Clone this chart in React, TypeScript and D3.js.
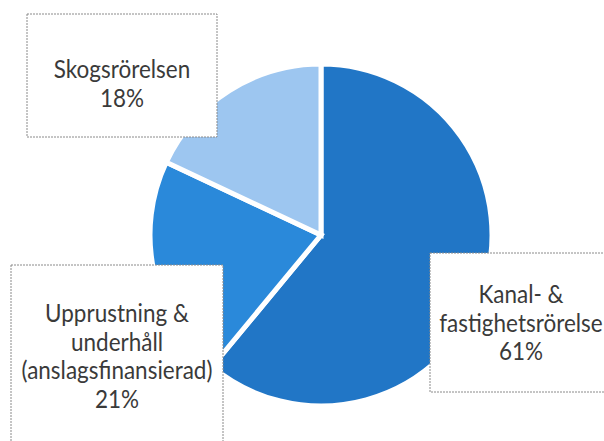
import React from "react";
import * as d3 from "d3";

const categories = [
  "Kanal- & fastighetsrörelse",
  "Upprustning & underhåll (anslagsfinansierad)",
  "Skogsrörelsen",
];
const values = [61, 21, 18];
const labelNames = [
  ["Kanal- &", "fastighetsrörelse"],
  ["Upprustning &", "underhåll", "(anslagsfinansierad)"],
  ["Skogsrörelsen"],
];
const colors = ["#2176C6", "#2A89DA", "#9DC6F0"];

const W = 604;
const H = 441;
const cx = 321;
const cy = 235;
const R = 171;

const boxes = [
  { x0: 430, y0: 253, x1: 614, y1: 392, tx: 521, ty: 303 },
  { x0: 11, y0: 265, x1: 223, y1: 450, tx: 117, ty: 322 },
  { x0: 27, y0: 14, x1: 217, y1: 137, tx: 122, ty: 78 },
];

export default function App() {
  const pie = d3
    .pie<number>()
    .sort(null)
    .value((d) => d)
    .startAngle(0)
    .endAngle(2 * Math.PI);
  const arcs = pie(values);
  const arc = d3.arc<d3.PieArcDatum<number>>().innerRadius(0).outerRadius(R);
  const lineH = 28.5;
  const fontSize = 22.5;
  const vScale = 1.12;

  return (
    <svg
      width={W}
      height={H}
      style={{ position: "absolute", left: 0, top: 0, background: "#fff" }}
    >
      <rect x={0} y={0} width={W} height={H} fill="#fff" />
      <g transform={`translate(${cx},${cy})`}>
        {arcs.map((a, i) => (
          <path
            key={categories[i]}
            d={arc(a) || ""}
            fill={colors[i]}
            stroke="#fff"
            strokeWidth={5}
            strokeLinejoin="miter"
          />
        ))}
      </g>
      {boxes.map((b, i) => {
        const lines = [...labelNames[i], `${values[i]}%`];
        return (
          <g key={`box-${i}`}>
            <rect
              x={b.x0}
              y={b.y0}
              width={b.x1 - b.x0}
              height={b.y1 - b.y0}
              fill="#fff"
              stroke="#8a8a8a"
              strokeWidth={1}
              strokeDasharray="2,1"
            />
            {lines.map((t, j) => {
              const by = b.ty + j * lineH;
              return (
                <text
                  key={t}
                  x={0}
                  y={0}
                  transform={`translate(${b.tx},${by}) scale(1,${vScale})`}
                  textAnchor="middle"
                  fontFamily="Lato, 'Open Sans', sans-serif"
                  fontSize={fontSize}
                  fill="#3a3a3a"
                >
                  {t}
                </text>
              );
            })}
          </g>
        );
      })}
    </svg>
  );
}
